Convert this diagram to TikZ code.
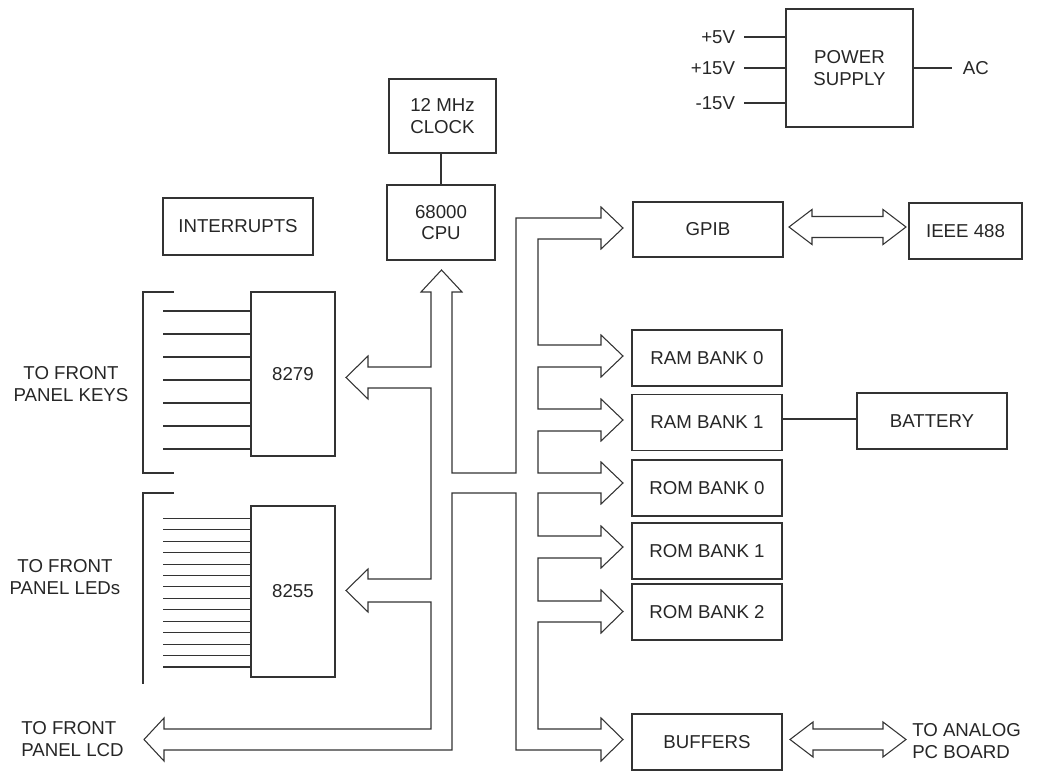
\documentclass[tikz,border=0pt]{standalone}
\usepackage{fontspec}
\setmainfont{Liberation Sans}
\begin{document}
\begin{tikzpicture}[x=0.75pt,y=-0.75pt,
  every node/.style={font=\fontsize{14pt}{16pt}\selectfont, text=black!85},
  blk/.style={draw=black!80, line width=0.8pt, inner sep=0pt, align=center, minimum width=112.5pt, minimum height=42pt},
  wire/.style={draw=black!80, line width=0.8pt},
  lbl/.style={inner sep=0pt, align=center}]
\useasboundingbox (0,0) rectangle (1054,773);

% blocks
\node[blk, minimum width=95.25pt, minimum height=88.5pt] (ps) at (849.5,68) {POWER\\SUPPLY};
\node[blk, minimum width=80.25pt, minimum height=55.5pt] (clk) at (442.5,116) {12 MHz\\CLOCK};
\node[blk, minimum width=81pt, minimum height=56.25pt] (cpu) at (441,222.5) {68000\\CPU};
\node[blk, minimum width=112.5pt, minimum height=42.75pt] (irq) at (238,226.5) {INTERRUPTS};
\node[blk, minimum height=41.25pt] (gpib) at (708,229.5) {GPIB};
\node[blk, minimum width=84.75pt] (ieee) at (965.5,231) {IEEE 488};
\node[blk, minimum width=63pt, minimum height=123pt] (kb) at (293,374) {8279};
\node[blk, minimum width=63pt, minimum height=128.25pt] (pio) at (293,591.5) {8255};
\node[blk] (ram0) at (707,358) {RAM BANK 0};
\node[blk] (ram1) at (707,422.5) {RAM BANK 1};
\node[blk] (rom0) at (707,488) {ROM BANK 0};
\node[blk] (rom1) at (707,551) {ROM BANK 1};
\node[blk] (rom2) at (707,612) {ROM BANK 2};
\node[blk] (bat) at (932,421) {BATTERY};
\node[blk] (buf) at (707,742) {BUFFERS};

% power supply labels
\node[lbl, anchor=east, inner xsep=6.5pt] (p5) at (744,37) {+5V};
\node[lbl, anchor=east, inner xsep=6.5pt] (p15) at (744,68) {+15V};
\node[lbl, anchor=east, inner xsep=6.5pt] (m15) at (744,103) {-15V};
\node[lbl, anchor=west, inner xsep=8pt] (ac) at (952,68) {AC};
\draw[wire] (p5.east) -- (p5.east -| ps.west);
\draw[wire] (p15.east) -- (p15.east -| ps.west);
\draw[wire] (m15.east) -- (m15.east -| ps.west);
\draw[wire] (ps.east |- ac.west) -- (ac.west);

% clock to cpu
\draw[wire] (clk.south -| cpu.north) -- (cpu.north);

% battery
\draw[wire] (ram1.east |- 0,419) -- (bat.west |- 0,419);

% side labels
\node[lbl] (keys) at (71,384) {TO FRONT\\PANEL KEYS};
\node[lbl] (leds) at (65,577) {TO FRONT\\PANEL LEDs};
\node[lbl, align=left, anchor=west] (lcd) at (21,739) {TO FRONT\\PANEL LCD};
\node[lbl, align=left, anchor=west] (ana) at (912,741) {TO ANALOG\\PC BOARD};

% 8279 pins and bracket
\foreach \y in {311,334,357,380,403,426,449} \draw[wire] (163,\y) -- (kb.west |- 0,\y);
\draw[wire] (174,292) -- (143,292) -- (143,473) -- (174,473);
% 8255 pins and bracket
\foreach \i in {0,...,13} \draw[wire] (163,518.3+11.44*\i) -- (pio.west |- 0,518.3+11.44*\i);
\draw[wire] (174,493) -- (143,493) -- (143,684);

% main bus outline (one closed polygon)
\draw[wire, line join=miter]
 (431,367) -- (431,292) -- (421,292) -- (441.5,270) -- (462,292) -- (452,292) -- (452,473)
 -- (516,473) -- (516,218) -- (601,218) -- (601,207) -- (623,228) -- (601,249) -- (601,239)
 -- (538,239) -- (538,345) -- (601,345) -- (601,335) -- (623,356) -- (601,377) -- (601,367)
 -- (538,367) -- (538,409) -- (601,409) -- (601,399) -- (623,420) -- (601,441) -- (601,431)
 -- (538,431) -- (538,473) -- (601,473) -- (601,462) -- (623,483) -- (601,504) -- (601,493)
 -- (538,493) -- (538,536) -- (601,536) -- (601,526) -- (623,547) -- (601,568) -- (601,558)
 -- (538,558) -- (538,601) -- (601,601) -- (601,590) -- (623,611.5) -- (601,633) -- (601,622)
 -- (538,622) -- (538,729) -- (601,729) -- (601,718) -- (623,739.5) -- (601,761) -- (601,750)
 -- (516,750) -- (516,493) -- (452,493) -- (452,750) -- (164,750) -- (164,761) -- (144,739.5)
 -- (164,718) -- (164,729) -- (431,729) -- (431,602) -- (368,602) -- (368,612) -- (346,590.5)
 -- (368,569) -- (368,579) -- (431,579) -- (431,388) -- (368,388) -- (368,399) -- (346,377.5)
 -- (368,356) -- (368,367) -- cycle;

% double arrows
\draw[wire, line join=miter] (789,227) -- (812,209.5) -- (812,216.5) -- (883,216.5) -- (883,209.5)
 -- (906,227) -- (883,244.5) -- (883,237.5) -- (812,237.5) -- (812,244.5) -- cycle;
\draw[wire, line join=miter] (790,739.5) -- (813,722) -- (813,729) -- (883,729) -- (883,722)
 -- (906,739.5) -- (883,757) -- (883,750) -- (813,750) -- (813,757) -- cycle;
\end{tikzpicture}
\end{document}
